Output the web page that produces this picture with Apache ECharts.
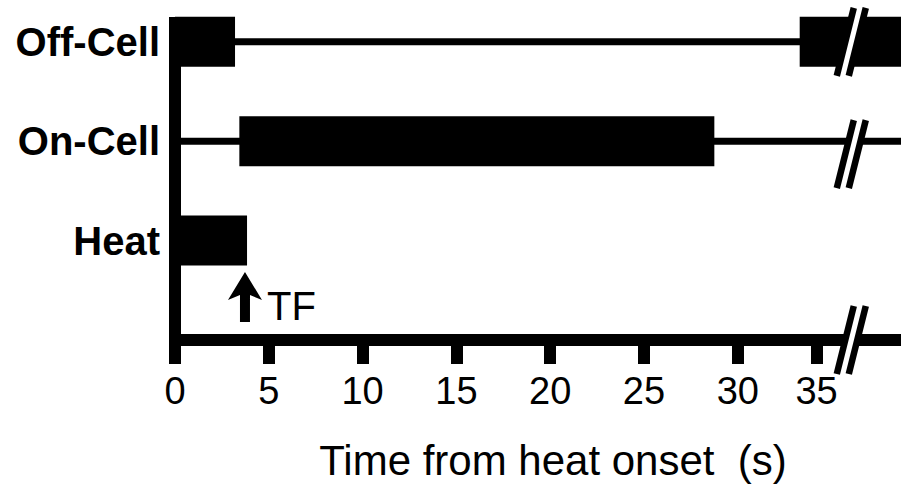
<!DOCTYPE html>
<html>
<head>
<meta charset="utf-8">
<script src="https://cdn.jsdelivr.net/npm/echarts@6/dist/echarts.min.js"></script>
<style>
html, body { margin: 0; padding: 0; background: #fff; }
#chart { width: 901px; height: 488px; }
</style>
</head>
<body>
<div id="chart"></div>
<script>
// rows on the y axis
const rowNames = ['Heat', 'On-Cell', 'Off-Cell'];
const rowValues = [1, 2, 3];

// x ticks (the "35" tick sits a little left of the 5 s grid in the figure)
const tickValues = [0, 5, 10, 15, 20, 25, 30, 34.2];
const tickLabels = ['0', '5', '10', '15', '20', '25', '30', '35'];
const xMax = 38.7;

// firing bursts [start, end] in seconds
const offCellBursts = [[0, 3.2], [33.3, 38.7]];
const onCellBursts = [[3.43, 28.75]];
const heatBursts = [[0, 3.84]];

// baseline traces
const offCellTrace = [[0, 3], [38.7, 3]];
const onCellTrace = [[0, 2], [38.7, 2]];

// tail flick
const tfTimes = [3.73];
const tfLabel = 'TF';

// axis break marks [x, row]
const breakMarks = [[36.05, 3], [36.05, 1.87], [36.05, 0]];

const FONT = 'Liberation Sans, Arial, sans-serif';

const burstData = []
  .concat(offCellBursts.map(b => [b[0], b[1], 3]))
  .concat(onCellBursts.map(b => [b[0], b[1], 2]))
  .concat(heatBursts.map(b => [b[0], b[1], 1]));

function renderBurst(params, api) {
  const p0 = api.coord([api.value(0), api.value(2)]);
  const p1 = api.coord([api.value(1), api.value(2)]);
  const h = 50;
  return {
    type: 'rect',
    shape: { x: p0[0], y: p0[1] - h / 2, width: p1[0] - p0[0], height: h },
    style: { fill: '#000' }
  };
}

function renderBreak(params, api) {
  const c = api.coord([api.value(0), api.value(1)]);
  const hh = 34, lean = 8.5, half = 6;
  const slash = dx => ({
    type: 'line',
    shape: { x1: c[0] + dx - lean, y1: c[1] + hh, x2: c[0] + dx + lean, y2: c[1] - hh },
    style: { stroke: '#000', lineWidth: 6.5 }
  });
  return {
    type: 'group',
    children: [
      {
        type: 'polygon',
        shape: {
          points: [
            [c[0] - half - lean, c[1] + hh],
            [c[0] - half + lean, c[1] - hh],
            [c[0] + half + lean, c[1] - hh],
            [c[0] + half - lean, c[1] + hh]
          ]
        },
        style: { fill: '#fff' }
      },
      slash(-half),
      slash(half)
    ]
  };
}

function renderArrow(params, api) {
  const p = api.coord([api.value(0), 0]);
  const x = p[0];
  const by = p[1] - 18;
  const ty = by - 50;
  return {
    type: 'group',
    children: [
      {
        type: 'polygon',
        shape: {
          points: [
            [x, ty], [x + 17, ty + 28], [x + 5, ty + 23], [x + 5, by],
            [x - 5, by], [x - 5, ty + 23], [x - 17, ty + 28]
          ]
        },
        style: { fill: '#000' }
      },
      {
        type: 'text',
        x: x + 22,
        y: ty + 34,
        style: {
          text: tfLabel, fill: '#000', font: '40px ' + FONT,
          align: 'left', verticalAlign: 'middle'
        }
      }
    ]
  };
}

const chart = echarts.init(document.getElementById('chart'), null, { renderer: 'svg' });
chart.setOption({
  animation: false,
  backgroundColor: '#fff',
  grid: { left: 175, right: 0, top: 17, bottom: 148 },
  xAxis: {
    type: 'value',
    min: 0,
    max: xMax,
    name: 'Time from heat onset  (s)',
    nameLocation: 'middle',
    nameGap: 99,
    nameTextStyle: { fontFamily: FONT, fontSize: 42, color: '#000', padding: [0, 0, 0, 30] },
    axisLine: { show: true, onZero: false, lineStyle: { color: '#000', width: 12, cap: 'butt' } },
    axisTick: { show: true, length: 24, customValues: tickValues, lineStyle: { color: '#000', width: 12, cap: 'butt' } },
    axisLabel: {
      customValues: tickValues,
      formatter: v => tickLabels[tickValues.indexOf(v)],
      margin: 32,
      fontFamily: FONT,
      fontSize: 38,
      color: '#000'
    },
    splitLine: { show: false }
  },
  yAxis: {
    type: 'value',
    min: 0,
    max: 3.25,
    axisLine: { show: true, onZero: false, lineStyle: { color: '#000', width: 12, cap: 'butt' } },
    axisTick: { show: false },
    axisLabel: {
      customValues: rowValues,
      formatter: v => rowNames[rowValues.indexOf(v)],
      margin: 15,
      fontFamily: FONT,
      fontSize: 40,
      fontWeight: 'bold',
      color: '#000'
    },
    splitLine: { show: false }
  },
  series: [
    {
      type: 'line', data: offCellTrace, symbol: 'none',
      lineStyle: { color: '#000', width: 7 }, silent: true
    },
    {
      type: 'line', data: onCellTrace, symbol: 'none',
      lineStyle: { color: '#000', width: 7 }, silent: true
    },
    { type: 'custom', data: burstData, renderItem: renderBurst, clip: false },
    { type: 'custom', data: tfTimes.map(t => [t]), renderItem: renderArrow, clip: false },
    { type: 'custom', data: breakMarks, renderItem: renderBreak, clip: false, z: 5 }
  ]
});
</script>
</body>
</html>
